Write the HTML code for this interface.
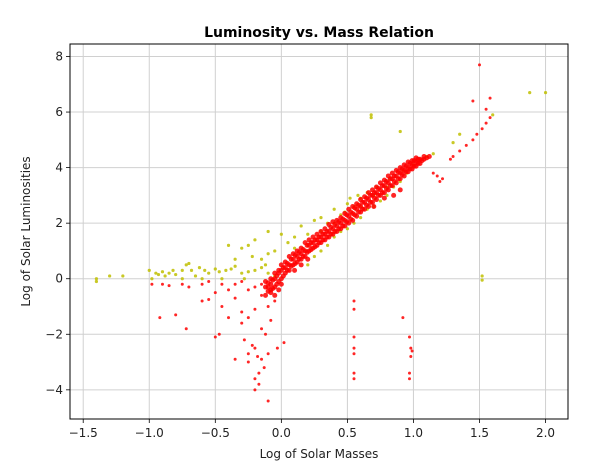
<!DOCTYPE html>
<html><head><meta charset="utf-8"><style>
body{margin:0;background:#fff;}
svg text{font-family:"DejaVu Sans","Liberation Sans",sans-serif;}
</style></head><body>
<svg id="chart" width="593" height="466"></svg>
<script>
const xTicks=[-1.5,-1.0,-0.5,0.0,0.5,1.0,1.5,2.0];
const xTickLabels=["\u22121.5","\u22121.0","\u22120.5","0.0","0.5","1.0","1.5","2.0"];
const yTicks=[-4,-2,0,2,4,6,8];
const yTickLabels=["\u22124","\u22122","0","2","4","6","8"];
const yellowPts=[[-1.4,0],[-1.4,-0.1],[-1.3,0.1],[-1.2,0.1],[-1.0,0.3],[-0.98,0],[-0.95,0.2],[-0.93,0.15],[-0.9,0.25],[-0.88,0.1],[-0.85,0.2],[-0.82,0.3],[-0.8,0.15],[-0.75,0.3],[-0.72,0.5],[-0.7,0.55],[-0.68,0.3],[-0.65,0.1],[-0.62,0.4],[-0.58,0.3],[-0.55,0.2],[-0.5,0.35],[-0.47,0.25],[-0.42,0.3],[-0.38,0.35],[-0.35,0.45],[-0.3,0.2],[-0.28,0.0],[-0.25,0.25],[-0.2,0.3],[-0.15,0.4],[-0.12,0.5],[-0.1,0.2],[-0.05,0.1],[-0.45,0.0],[-0.6,0.0],[-0.75,0.0],[-0.3,1.1],[-0.25,1.2],[-0.22,0.8],[-0.15,0.7],[-0.1,0.9],[-0.05,1.0],[-0.2,1.4],[-0.1,1.7],[0.0,1.6],[0.05,1.3],[0.1,1.5],[0.15,1.9],[0.2,1.6],[0.25,2.1],[0.1,1.1],[0.3,1.7],[0.2,1.2],[0.35,2.0],[0.4,2.5],[0.45,2.3],[0.52,2.9],[0.58,3.0],[0.65,3.1],[0.7,3.0],[0.8,3.3],[0.6,2.6],[0.3,2.2],[-0.35,0.7],[-0.4,1.2],[0.2,0.5],[0.25,0.8],[0.3,1.0],[0.35,1.2],[0.4,1.5],[0.45,1.7],[0.5,1.8],[0.55,2.0],[0.6,2.2],[0.65,2.5],[0.7,2.6],[0.75,2.8],[0.8,3.0],[0.85,3.3],[0.9,3.5],[0.95,3.8],[1.0,4.1],[1.05,4.3],[1.1,4.4],[1.15,4.5],[1.3,4.9],[1.35,5.2],[0.5,2.7],[0.55,2.6],[0.6,2.9],[0.48,2.4],[0.4,2.0],[0.68,5.9],[0.68,5.8],[0.9,5.3],[1.88,6.7],[2.0,6.7],[1.52,0.1],[1.52,-0.05],[1.6,5.9],[0.82,3.6],[0.72,3.3],[0.92,3.9]];
const redPts=[[-0.12,-0.3],[-0.12,-0.6],[-0.12,-0.1],[-0.08,-0.5],[-0.08,-0.2],[-0.08,0.0],[-0.08,-0.4],[-0.05,-0.3],[-0.05,0.0],[-0.05,0.2],[-0.05,-0.6],[-0.02,-0.1],[-0.02,0.2],[-0.02,0.3],[-0.02,-0.4],[0.0,0.0],[0.0,0.3],[0.0,0.5],[0.0,-0.2],[0.03,0.2],[0.03,0.4],[0.03,0.6],[0.06,0.3],[0.06,0.5],[0.06,0.8],[0.09,0.5],[0.09,0.7],[0.09,0.9],[0.12,0.6],[0.12,0.8],[0.12,1.0],[0.15,0.7],[0.15,0.9],[0.15,1.1],[0.18,0.8],[0.18,1.0],[0.18,1.3],[0.21,1.0],[0.21,1.2],[0.21,1.4],[0.24,1.1],[0.24,1.3],[0.24,1.5],[0.27,1.2],[0.27,1.4],[0.27,1.6],[0.30,1.3],[0.30,1.5],[0.30,1.7],[0.33,1.4],[0.33,1.6],[0.33,1.8],[0.36,1.5],[0.36,1.7],[0.36,1.95],[0.39,1.6],[0.39,1.8],[0.39,2.05],[0.42,1.7],[0.42,1.9],[0.42,2.1],[0.45,1.8],[0.45,2.0],[0.45,2.2],[0.48,1.9],[0.48,2.1],[0.48,2.35],[0.51,2.0],[0.51,2.25],[0.51,2.5],[0.54,2.1],[0.54,2.35],[0.54,2.6],[0.57,2.25],[0.57,2.5],[0.57,2.7],[0.60,2.4],[0.60,2.6],[0.60,2.85],[0.63,2.5],[0.63,2.75],[0.63,2.95],[0.66,2.6],[0.66,2.85],[0.66,3.1],[0.69,2.75],[0.69,3.0],[0.69,3.2],[0.72,2.85],[0.72,3.1],[0.72,3.3],[0.75,3.0],[0.75,3.2],[0.75,3.45],[0.78,3.1],[0.78,3.35],[0.78,3.55],[0.81,3.2],[0.81,3.45],[0.81,3.7],[0.84,3.35],[0.84,3.6],[0.84,3.8],[0.87,3.45],[0.87,3.7],[0.87,3.9],[0.90,3.6],[0.90,3.8],[0.90,4.0],[0.93,3.7],[0.93,3.9],[0.93,4.1],[0.96,3.85],[0.96,4.0],[0.96,4.2],[0.99,3.95],[0.99,4.1],[0.99,4.25],[1.02,4.05],[1.02,4.2],[1.02,4.35],[1.05,4.15],[1.05,4.3],[1.08,4.3],[1.08,4.4],[1.12,4.4],
[-0.1,-0.45],[-0.1,-0.15],[-0.065,-0.35],[-0.065,-0.05],[-0.035,-0.2],[-0.035,0.1],[0.015,0.1],[0.015,0.4],[0.045,0.3],[0.045,0.55],[0.075,0.45],[0.075,0.7],[0.105,0.55],[0.105,0.85],[0.135,0.7],[0.135,0.95],[0.165,0.8],[0.165,1.05],[0.195,0.95],[0.195,1.2],[0.225,1.05],[0.225,1.3],[0.255,1.15],[0.255,1.4],[0.285,1.3],[0.285,1.5],[0.315,1.4],[0.315,1.6],[0.345,1.5],[0.345,1.7],[0.375,1.6],[0.375,1.85],[0.405,1.7],[0.405,1.95],[0.435,1.8],[0.435,2.05],[0.465,1.9],[0.465,2.15],[0.495,2.05],[0.495,2.3],[0.525,2.15],[0.525,2.4],[0.555,2.3],[0.555,2.55],[0.585,2.4],[0.585,2.65],[0.615,2.5],[0.615,2.75],[0.645,2.65],[0.645,2.9],[0.675,2.75],[0.675,3.0],[0.705,2.9],[0.705,3.1],[0.735,3.0],[0.735,3.25],[0.765,3.1],[0.765,3.35],[0.795,3.25],[0.795,3.5],[0.825,3.35],[0.825,3.6],[0.855,3.5],[0.855,3.7],[0.885,3.6],[0.885,3.85],[0.915,3.75],[0.915,3.95],[0.945,3.85],[0.945,4.05],[0.975,3.95],[0.975,4.15],[1.005,4.05],[1.005,4.25],[1.035,4.15],[1.035,4.3],[1.065,4.25],[1.1,4.35],
[1.15,3.8],[1.18,3.7],[1.2,3.5],[1.22,3.6],[1.28,4.3],[1.3,4.4],[1.35,4.6],[1.4,4.8],[1.45,5.0],[1.48,5.2],[1.52,5.4],[1.55,5.6],[1.58,5.8],[1.5,7.7],[1.45,6.4],[1.58,6.5],[1.55,6.1],[0.85,3.0],[0.9,3.2],[0.78,2.9],[0.7,2.6],[0.55,-0.8],[0.55,-1.1],[0.55,-2.1],[0.55,-2.5],[0.55,-2.7],[0.55,-3.4],[0.55,-3.6],[0.92,-1.4],[0.97,-2.1],[0.98,-2.5],[0.99,-2.6],[0.98,-2.8],[0.97,-3.4],[0.97,-3.6],[-0.92,-1.4],[-0.8,-1.3],[-0.72,-1.8],[-0.6,-0.8],[-0.55,-0.75],[-0.5,-0.5],[-0.45,-1.0],[-0.5,-2.1],[-0.47,-2.0],[-0.4,-1.4],[-0.35,-0.7],[-0.3,-1.2],[-0.28,-2.2],[-0.25,-2.7],[-0.22,-2.4],[-0.2,-2.5],[-0.18,-2.8],[-0.15,-2.9],[-0.13,-3.2],[-0.1,-2.7],[-0.12,-2.0],[-0.15,-1.8],[-0.2,-1.1],[-0.25,-1.4],[-0.3,-1.6],[-0.1,-1.0],[-0.05,-0.8],[-0.08,-1.5],[-0.03,-2.5],[0.02,-2.3],[-0.2,-3.6],[-0.17,-3.4],[-0.17,-3.8],[-0.1,-4.4],[-0.2,-4.0],[-0.25,-3.0],[-0.35,-2.9],[-0.98,-0.2],[-0.9,-0.2],[-0.85,-0.25],[-0.75,-0.2],[-0.7,-0.3],[-0.6,-0.2],[-0.55,-0.1],[-0.45,-0.2],[-0.4,-0.4],[-0.35,-0.2],[-0.3,-0.1],[-0.25,-0.4],[-0.2,-0.3],[-0.15,-0.6],[-0.1,-0.3],[-0.15,-0.2],[0.1,0.3],[0.15,0.5],[0.2,0.7]];

const NS="http://www.w3.org/2000/svg";
const svg=document.getElementById('chart');
const L=70,R=568,T=44,B=419;
const xMin=-1.6,xMax=2.17,yMin=-5.05,yMax=8.45;
function sx(v){return L+(v-xMin)/(xMax-xMin)*(R-L);}
function sy(v){return B-(v-yMin)/(yMax-yMin)*(B-T);}
function mk(tag,attrs,parent){const e=document.createElementNS(NS,tag);for(const k in attrs)e.setAttribute(k,attrs[k]);(parent||svg).appendChild(e);return e;}

const grid=mk('g',{});


xTicks.forEach((v,i)=>{
  const x=sx(v);
  const gl=mk('line',{x1:x,x2:x,y1:T,y2:B,stroke:'#d0d0d0','stroke-width':1},grid);
  
  
  const tk=mk('line',{x1:x,x2:x,y1:B,y2:B+4,stroke:'#000','stroke-width':0.8});
  
  
  const t=mk('text',{x:x,y:B+18,'text-anchor':'middle','font-size':12,fill:'#222'});
  t.textContent=xTickLabels[i];
  
  
});
yTicks.forEach((v,i)=>{
  const y=sy(v);
  const gl=mk('line',{x1:L,x2:R,y1:y,y2:y,stroke:'#d0d0d0','stroke-width':1},grid);
  
  
  const tk=mk('line',{x1:L-4,x2:L,y1:y,y2:y,stroke:'#000','stroke-width':0.8});
  
  
  const t=mk('text',{x:L-7,y:y+4,'text-anchor':'end','font-size':12,fill:'#222'});
  t.textContent=yTickLabels[i];
  
  
});

const gy=mk('g',{fill:'#bfbf00','fill-opacity':0.85});


yellowPts.forEach(p=>{
  const c=mk('circle',{cx:sx(p[0]),cy:sy(p[1]),r:1.6},gy);
  
  
});
const gr=mk('g',{fill:'#ff0000','fill-opacity':0.85});


redPts.forEach(p=>{
  const big=(p[0]>=-0.12&&p[0]<=1.12&&Math.abs(p[1]-(4*p[0]+0.2))<0.8);
  const c=mk('circle',{cx:sx(p[0]),cy:sy(p[1]),r:big?2.5:1.5},gr);
  
  
});

const frame=mk('rect',{x:L,y:T,width:R-L,height:B-T,fill:'none',stroke:'#000','stroke-width':1});



const title=mk('text',{x:(L+R)/2,y:37,'text-anchor':'middle','font-size':14,'font-weight':'bold',fill:'#000'});
title.textContent='Luminosity vs. Mass Relation';


const xl=mk('text',{x:(L+R)/2,y:458,'text-anchor':'middle','font-size':12,fill:'#222'});
xl.textContent='Log of Solar Masses';


const yl=mk('text',{x:0,y:0,'text-anchor':'middle','font-size':12,fill:'#222',transform:'translate(30,'+((T+B)/2)+') rotate(-90)'});
yl.textContent='Log of Solar Luminosities';


</script>
</body></html>
